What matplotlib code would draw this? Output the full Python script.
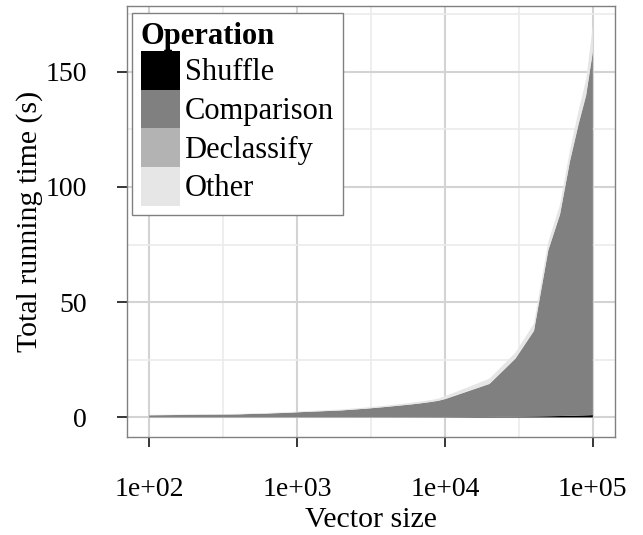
import matplotlib
matplotlib.use("Agg")
import matplotlib.pyplot as plt
from matplotlib.patches import Patch
from matplotlib.ticker import FixedLocator, FixedFormatter

plt.rcParams['font.family'] = ['Liberation Serif', 'DejaVu Serif']

# Vector sizes and running time per operation (seconds)
sizes = [100, 200, 300, 400, 500, 600, 700, 800, 900,
         1000, 2000, 3000, 4000, 5000, 6000, 7000, 8000, 9000,
         10000, 20000, 30000, 40000, 50000, 60000, 70000, 80000, 90000, 100000]
shuffle = [0.01, 0.01, 0.01, 0.01, 0.01, 0.01, 0.01, 0.01, 0.01,
           0.01, 0.02, 0.03, 0.04, 0.05, 0.06, 0.07, 0.08, 0.09,
           0.1, 0.2, 0.3, 0.4, 0.5, 0.6, 0.7, 0.8, 0.9, 1.0]
comparison = [0.9, 1.1, 1.2, 1.3, 1.5, 1.6, 1.8, 1.9, 2.0,
              2.2, 3.0, 3.8, 4.5, 5.1, 5.6, 6.1, 6.6, 7.1,
              7.8, 14.3, 25.2, 37.1, 72.0, 87.4, 110.3, 126.2, 138.6, 157.5]
declassify = [0.01, 0.01, 0.01, 0.01, 0.01, 0.01, 0.01, 0.01, 0.01,
              0.02, 0.02, 0.03, 0.03, 0.04, 0.04, 0.05, 0.05, 0.06,
              0.06, 0.1, 0.15, 0.2, 0.25, 0.3, 0.35, 0.4, 0.45, 0.5]
other = [0.2, 0.2, 0.2, 0.2, 0.2, 0.2, 0.25, 0.25, 0.3,
         0.3, 0.4, 0.5, 0.55, 0.6, 0.7, 0.75, 0.8, 0.9,
         1.2, 2.2, 2.5, 3.0, 3.5, 4.0, 4.5, 5.5, 6.5, 11.0]

labels = ["Shuffle", "Comparison", "Declassify", "Other"]
colors = ["#000000", "#808080", "#B3B3B3", "#E6E6E6"]
xticks = [100, 1000, 10000, 100000]
xticklabels = ["1e+02", "1e+03", "1e+04", "1e+05"]
yticks = [0, 50, 100, 150]

fig = plt.figure(figsize=(6.43, 5.35), dpi=100)
ax = fig.add_axes([0.1975, 0.1832, 0.759, 0.8056])

ax.stackplot(sizes, shuffle, comparison, declassify, other,
             colors=colors, linewidth=0, zorder=3)

ax.set_xscale('log')
ax.set_xlim(10 ** 1.85, 10 ** 5.15)
totals = [a + b + c + d for a, b, c, d in zip(shuffle, comparison, declassify, other)]
top = max(totals)
ax.set_ylim(-0.05 * top, 1.05 * top)

ax.xaxis.set_major_locator(FixedLocator(xticks))
ax.xaxis.set_major_formatter(FixedFormatter(xticklabels))
ax.xaxis.set_minor_locator(FixedLocator([10 ** 2.5, 10 ** 3.5, 10 ** 4.5]))
ax.xaxis.set_minor_formatter(FixedFormatter([]))
ax.set_yticks(yticks)
ax.yaxis.set_minor_locator(FixedLocator([25, 75, 125, 175]))

ax.grid(which='major', color='#D3D3D3', linewidth=1.5, zorder=0)
ax.grid(which='minor', color='#EBEBEB', linewidth=1.2, zorder=0)
ax.set_axisbelow(True)

ax.tick_params(which='major', length=7, width=1.1, color='black',
               labelsize=20, pad=22, labelcolor='black')
ax.tick_params(which='minor', length=0)

for s in ax.spines.values():
    s.set_color('#808080')
    s.set_linewidth(1.0)

ax.set_xlabel("Vector size", fontsize=21.5)
ax.set_ylabel("Total running time (s)", fontsize=21.5)
ax.xaxis.set_label_coords(0.5, -0.162)
ax.yaxis.set_label_coords(-0.172, 0.5)

handles = [Patch(facecolor=c, edgecolor='none', label=l) for c, l in zip(colors, labels)]
leg = ax.legend(handles=handles, loc='upper left', bbox_to_anchor=(0.0096, 0.984),
                borderaxespad=0, fontsize=22, title="Operation",
                title_fontproperties={'weight': 'bold', 'size': 22},
                alignment='left', handlelength=1.28, handleheight=1.57,
                handletextpad=0.15, labelspacing=0, borderpad=0.3,
                fancybox=False, framealpha=1, edgecolor='#808080')
leg.get_frame().set_linewidth(1.0)

fig.savefig("out.png", dpi=100)
